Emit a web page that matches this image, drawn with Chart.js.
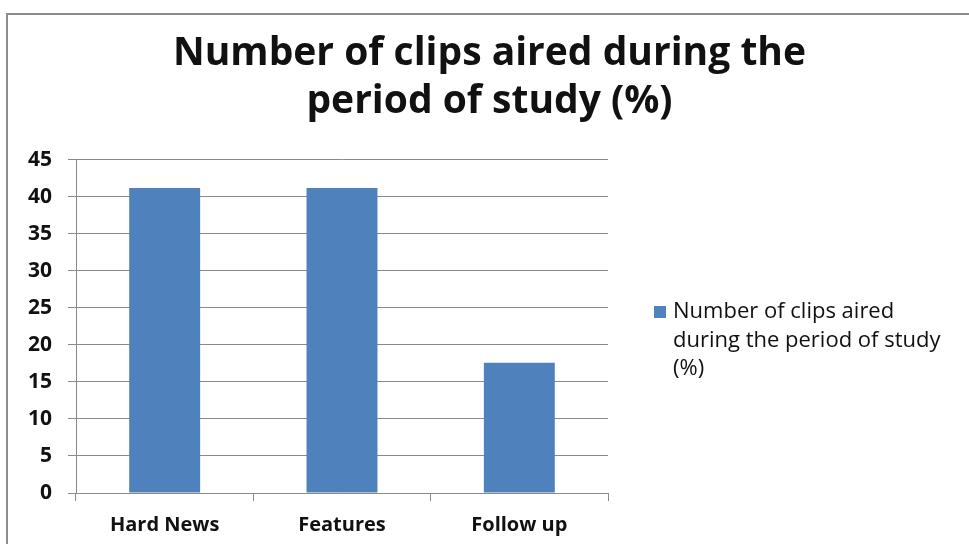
<!DOCTYPE html>
<html>
<head>
<meta charset="utf-8">
<script src="https://cdn.jsdelivr.net/npm/chart.js@4"></script>
<style>
  html, body { margin: 0; padding: 0; background: #fff; }
  #wrap { position: relative; width: 969px; height: 544px; overflow: hidden; }
  #frame {
    position: absolute; left: 6px; top: 13px; width: 990px; height: 560px;
    border: 2px solid #8c8c8c; box-sizing: border-box;
  }
  #chart { position: absolute; left: 0; top: 0; }
</style>
</head>
<body>
<div id="wrap">
  <div id="frame"></div>
  <canvas id="chart" width="969" height="544"></canvas>
</div>
<script>
// chart data
const categories = ['Hard News', 'Features', 'Follow up'];
const clipShares = [41.2, 41.2, 17.6];
const seriesLabel = 'Number of clips aired during the period of study (%)';
const titleLines = ['Number of clips aired during the', 'period of study (%)'];
const yTicks = { min: 0, max: 45, step: 5 };

const barColor = '#4f81bd';
const gridColor = '#8a8a8a';
const textColor = '#111';
const fontFamily = '"Open Sans", Lato, sans-serif';

// legend drawn to the right of the plot, text wrapped like the original
const sideLegend = {
    id: 'sideLegend',
    afterDraw(chart) {
        const ctx = chart.ctx;
        const area = chart.chartArea;
        const ds = chart.data.datasets[0];
        const x = area.right + 46;
        const lineH = 28.5;
        ctx.save();
        ctx.font = '22px ' + fontFamily;
        ctx.fillStyle = textColor;
        ctx.textBaseline = 'middle';
        ctx.textAlign = 'left';

        // wrap the label to the space that is left
        const maxW = 280;
        const words = ds.label.split(' ');
        const lines = [];
        let cur = '';
        words.forEach(function(w) {
            const test = cur ? cur + ' ' + w : w;
            if (ctx.measureText(test).width > maxW && cur) {
                lines.push(cur);
                cur = w;
            } else {
                cur = test;
            }
        });
        if (cur) lines.push(cur);

        const top = 312;
        ctx.fillStyle = ds.backgroundColor;
        ctx.fillRect(x, top - 6, 12, 12);
        ctx.fillStyle = textColor;
        lines.forEach(function(line, i) {
            ctx.fillText(line, x + 19, top + i * lineH);
        });
        ctx.restore();
    }
};

const ctx = document.getElementById('chart');
const chart = new Chart(ctx, {
    type: 'bar',
    data: {
        labels: categories,
        datasets: [{
            label: seriesLabel,
            data: clipShares,
            backgroundColor: barColor,
            borderWidth: 0,
            barPercentage: 0.4,
            categoryPercentage: 1.0
        }]
    },
    options: {
        responsive: false,
        animation: false,
        devicePixelRatio: 1,
        layout: {
            padding: { top: 0, left: 10, right: 0, bottom: 0 }
        },
        plugins: {
            legend: { display: false },
            tooltip: { enabled: false },
            title: {
                display: true,
                text: titleLines,
                color: textColor,
                font: { family: fontFamily, size: 39, weight: 'bold', lineHeight: 1.23 },
                padding: { top: 30, bottom: 34 }
            }
        },
        scales: {
            x: {
                offset: true,
                grid: {
                    display: true,
                    offset: true,
                    drawOnChartArea: false,
                    drawTicks: true,
                    tickLength: 8,
                    color: gridColor
                },
                border: { color: gridColor, width: 1 },
                ticks: {
                    color: textColor,
                    padding: 12,
                    font: { family: fontFamily, size: 20, weight: 'bold' }
                },
                afterFit: function(scale) { scale.height = scale.height - 5; }
            },
            y: {
                min: yTicks.min,
                max: yTicks.max,
                grid: { color: gridColor, tickLength: 8 },
                border: { color: gridColor, width: 1 },
                ticks: {
                    stepSize: yTicks.step,
                    color: textColor,
                    padding: 16,
                    font: { family: fontFamily, size: 21, weight: 'bold' }
                },
                afterFit: function(scale) { scale.width = 66; }
            },
            spacer: {
                type: 'linear',
                position: 'right',
                display: true,
                grid: { display: false },
                border: { display: false },
                ticks: { display: false },
                afterFit: function(scale) { scale.width = 361; }
            }
        }
    },
    plugins: [sideLegend]
});
</script>
</body>
</html>
